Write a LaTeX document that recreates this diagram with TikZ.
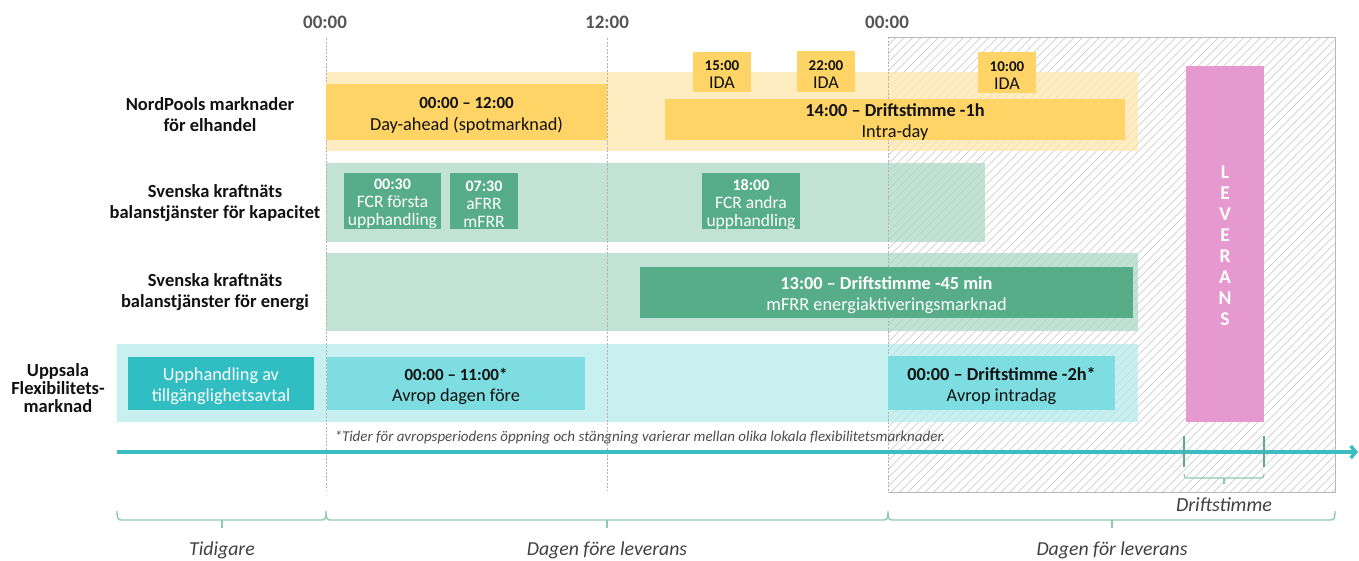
\documentclass[tikz,border=0pt]{standalone}
\usepackage{fontspec}
\setmainfont{Carlito}
\usetikzlibrary{patterns.meta,arrows.meta}
\newcommand\fs[2]{\fontsize{#1}{#2}\selectfont}
\definecolor{ybox}{HTML}{FFD466}
\definecolor{yband}{HTML}{FFE6AB}
\definecolor{gbox}{HTML}{57AD8A}
\definecolor{gband}{HTML}{AED8C7}
\definecolor{cband}{HTML}{B6EBEB}
\definecolor{tbox}{HTML}{30BEC3}
\definecolor{lbox}{HTML}{7EDDE0}
\definecolor{pinkbox}{HTML}{E699CE}
\definecolor{tline}{HTML}{3DBDC1}
\definecolor{brc}{HTML}{8FC9AE}
\definecolor{hdr}{HTML}{555555}
\definecolor{txt}{HTML}{111111}
% name, x, y, w, h, fill, text colour, font, text
\newcommand\tbox[9]{%
  \node[bx,fill=#6,minimum width=#4pt,minimum height=#5pt] (#1) at (#2,#3) {};
  \node[boxtxt,text=#7,font=#8] (#1-t) at ([yshift=-3pt]#1.center) {#9};}
\begin{document}
\begin{tikzpicture}[x=1pt,y=-1pt,
  bx/.style={inner sep=0pt,outer sep=0pt,anchor=north west,draw=none},
  boxtxt/.style={inner sep=0pt,align=center},
  band/.style={bx,fill opacity=0.75},
  rowlab/.style={align=center,text=txt,font=\bfseries\fs{18.5}{21}},
  hdrlab/.style={text=hdr,font=\bfseries\fs{19}{20}},
  vline/.style={draw=black!30,line width=0.8pt,dash pattern=on 2pt off 1.5pt},
  brace/.style={draw=brc,line width=1.4pt},
  tick/.style={draw=gbox,line width=1.5pt},
  botlab/.style={text=black!75,font=\itshape\fs{19.8}{21}}]
\useasboundingbox (0,0) rectangle (1359,560);

% hatched region
\node[bx,minimum width=447pt,minimum height=455pt,
  pattern={Lines[angle=45,distance=6pt,line width=0.7pt]},pattern color=black!20] (hatch) at (888,37) {};
\draw[draw=black!28,line width=0.8pt] (hatch.south west) -- (hatch.south east) -- (hatch.north east) -- (hatch.north west);

% bands
\node[band,fill=yband,minimum width=812pt,minimum height=79pt] (bandA) at (326,72) {};
\node[band,fill=gband,minimum width=659pt,minimum height=79pt] (bandB) at (326,163) {};
\node[band,fill=gband,minimum width=812pt,minimum height=78pt] (bandC) at (326,253) {};
\node[band,fill=cband,minimum width=1021pt,minimum height=78pt] (bandD) at (117,344) {};

% vertical dashed lines
\coordinate (v1t) at (326,38); \coordinate (v1b) at (326,490);
\coordinate (v2t) at (607,38); \coordinate (v2b) at (607,490);
\draw[vline] (v1t) -- (v1b);
\draw[vline] (v2t) -- (v2b);
\draw[vline] (hatch.north west) -- (hatch.south west);

% header times
\node[hdrlab] (h1) at (325,22) {00:00};
\node[hdrlab] (h2) at (607,22) {12:00};
\node[hdrlab] (h3) at (887,22) {00:00};

% row labels
\node[rowlab] (lA) at (210,115) {NordPools marknader\\för elhandel};
\node[rowlab] (lB) at (215,203) {Svenska kraftnäts\\balanstjänster för kapacitet};
\node[rowlab] (lC) at (215,292) {Svenska kraftnäts\\balanstjänster för energi};
\node[rowlab,font=\bfseries\fs{18.5}{18}] (lD) at (58,388) {Uppsala\\Flexibilitets-\\marknad};

% NordPool boxes
\tbox{da}{326}{84}{281}{56}{ybox}{txt}{\fs{18.3}{22}}{{\bfseries\fs{17}{22}00:00 – 12:00}\\Day-ahead (spotmarknad)}
\tbox{id}{665}{99}{460}{41}{ybox}{txt}{\fs{18.3}{21}}{{\bfseries 14:00 – Driftstimme -1h}\\Intra-day}
\tbox{ida1}{693}{52}{58}{40}{ybox}{txt}{\fs{18}{18}}{{\bfseries\fs{15}{18}15:00}\\IDA}
\tbox{ida2}{797}{51}{58}{41}{ybox}{txt}{\fs{18}{18}}{{\bfseries\fs{15}{18}22:00}\\IDA}
\tbox{ida3}{978}{52}{58}{41}{ybox}{txt}{\fs{18}{18}}{{\bfseries\fs{15}{18}10:00}\\IDA}

% capacity boxes
\tbox{fcr1}{344}{173}{97}{56}{gbox}{white}{\fs{17.5}{18}}{{\bfseries\fs{16}{18}00:30}\\FCR första\\upphandling}
\tbox{afrr}{450}{173}{68}{56}{gbox}{white}{\fs{17.5}{18}}{{\bfseries\fs{16}{18}07:30}\\aFRR\\mFRR}
\tbox{fcr2}{702}{173}{98}{56}{gbox}{white}{\fs{17.5}{18}}{{\bfseries\fs{16}{18}18:00}\\FCR andra\\upphandling}

% energy box
\tbox{mfrr}{640}{267}{493}{51}{gbox}{white}{\fs{18.3}{21}}{{\bfseries 13:00 – Driftstimme -45 min}\\mFRR energiaktiveringsmarknad}

% Uppsala boxes
\tbox{upph}{128}{357}{186}{53}{tbox}{white}{\fs{18.3}{21}}{Upphandling av\\tillgänglighetsavtal}
\tbox{avf}{327}{357}{258}{53}{lbox}{txt}{\fs{18.3}{21}}{{\bfseries\fs{17}{21}00:00 – 11:00*}\\Avrop dagen före}
\tbox{avi}{888}{356}{227}{54}{lbox}{txt}{\fs{18.3}{21}}{{\bfseries 00:00 – Driftstimme -2h*}\\Avrop intradag}

% Leverans
\node[bx,fill=pinkbox,minimum width=78pt,minimum height=356pt] (lev) at (1186,66) {};
\node[text=white,font=\bfseries\fs{19.5}{21},align=center] (levtxt) at ([yshift=-2pt]lev.center) {L\\E\\V\\E\\R\\A\\N\\S};

% footnote
\node[anchor=west,text=black!70,font=\itshape\fs{15}{16}] (fn) at (331,437)
  {*Tider för avropsperiodens öppning och stängning varierar mellan olika lokala flexibilitetsmarknader.};

% timeline
\coordinate (t0) at (117,452);
\coordinate (t1) at (1358,452);
\draw[draw=tline,line width=3.5pt,-{Straight Barb[length=5pt,width=12pt]}] (t0) -- (t1);

% drift hour ticks
\coordinate (k1t) at (1184,436); \coordinate (k1b) at (1184,467);
\coordinate (k2t) at (1264,436); \coordinate (k2b) at (1264,467);
\draw[tick] (k1t) -- (k1b);
\draw[tick] (k2t) -- (k2b);
\draw[brace,line width=1.2pt] (1184,474) .. controls (1184,477) and (1185,478) .. (1187,478) -- (1261,478) .. controls (1263,478) and (1264,477) .. (1264,474);
\draw[brace,line width=1.2pt] (1224,478) -- (1224,484);
\node[botlab,font=\itshape\fs{20}{21}] (drift) at (1224,505) {Driftstimme};

% bottom braces
\coordinate (b0) at (117,520); \coordinate (b1) at (326,520);
\coordinate (b2) at (888,520); \coordinate (b3) at (1335,520);
\draw[brace] (117,511) .. controls (117,518) and (118,520) .. (121,520) -- (322,520) .. controls (325,520) and (326,518) .. (326,511)
  .. controls (326,518) and (327,520) .. (330,520) -- (884,520) .. controls (887,520) and (888,518) .. (888,511)
  .. controls (888,518) and (889,520) .. (892,520) -- (1331,520) .. controls (1334,520) and (1335,518) .. (1335,511);
\draw[brace] (222,520) -- (222,528);
\draw[brace] (607,520) -- (607,528);
\draw[brace] (1112,520) -- (1112,528);
\node[botlab] (tid) at (222,550) {Tidigare};
\node[botlab] (dfl) at (607,550) {Dagen före leverans};
\node[botlab] (dfo) at (1112,550) {Dagen för leverans};
\end{tikzpicture}
\end{document}
